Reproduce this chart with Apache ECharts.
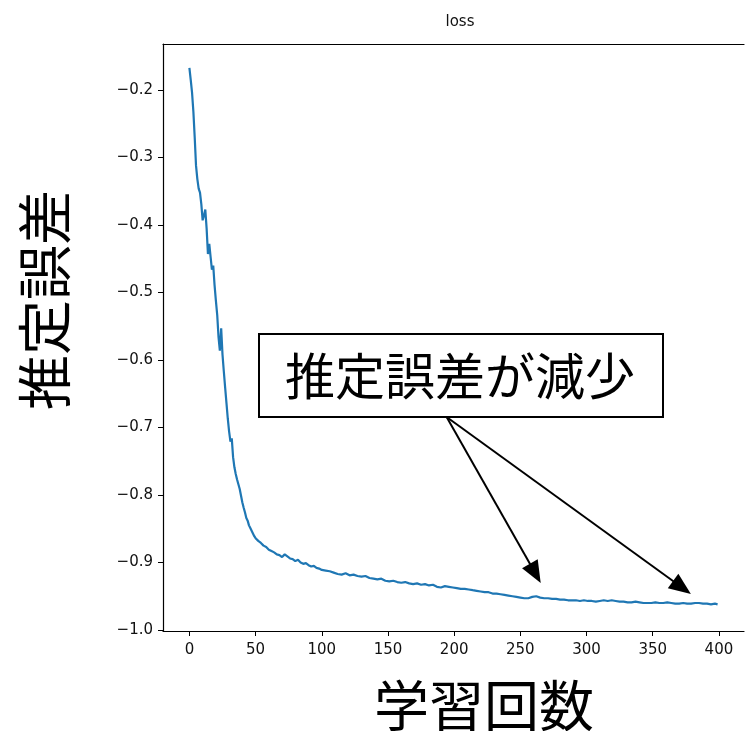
<!DOCTYPE html>
<html>
<head>
<meta charset="utf-8">
<script src="https://cdn.jsdelivr.net/npm/echarts@6/dist/echarts.min.js"></script>
<style>html,body{margin:0;padding:0;background:#fff}#c{width:745px;height:731px}</style>
</head>
<body>
<div id="c"></div>
<script>
var titleText = 'loss';
var xLabel = '学習回数';
var yLabel = '推定誤差';
var noteText = '推定誤差が減少';
var xTicks = [0, 50, 100, 150, 200, 250, 300, 350, 400];
var yTicks = [-1.0, -0.9, -0.8, -0.7, -0.6, -0.5, -0.4, -0.3, -0.2];
var steps = [0,1,2,3,4,5,6,7,8,9,10,11,12,13,14,15,16,17,18,19,20,21,22,23,24,25,26,27,28,29,30,31,32,33,34,35,36,37,38,39,40,41,42,43,44,45,46,47,48,49,50,
52,54,56,58,60,62,64,66,68,70,72,74,76,78,80,82,84,86,88,90,92,94,96,98,100,
103,106,109,112,115,118,121,124,127,130,133,136,139,142,145,148,151,154,157,160,163,166,169,172,175,178,181,184,187,190,193,196,199,
202,205,208,211,214,217,220,223,226,229,232,235,238,241,244,247,250,253,256,259,262,265,268,271,274,277,280,283,286,289,292,295,298,
301,304,307,310,313,316,319,322,325,328,331,334,337,340,343,346,349,352,355,358,361,364,367,370,373,376,379,382,385,388,391,394,397,399];
var lossValues = [-0.167,-0.185,-0.204,-0.232,-0.270,-0.312,-0.332,-0.346,-0.352,-0.369,-0.393,-0.386,-0.377,-0.405,-0.443,-0.428,-0.447,-0.466,-0.460,-0.489,-0.512,-0.533,-0.566,-0.586,-0.553,-0.592,-0.617,-0.641,-0.664,-0.687,-0.706,-0.721,-0.716,-0.744,-0.759,-0.769,-0.777,-0.784,-0.791,-0.801,-0.811,-0.819,-0.826,-0.834,-0.838,-0.845,-0.849,-0.853,-0.857,-0.861,-0.864,
-0.868,-0.871,-0.875,-0.877,-0.881,-0.883,-0.885,-0.888,-0.889,-0.892,-0.888,-0.891,-0.894,-0.895,-0.898,-0.896,-0.900,-0.902,-0.901,-0.904,-0.906,-0.905,-0.908,-0.909,-0.911,
-0.912,-0.913,-0.915,-0.917,-0.918,-0.916,-0.919,-0.918,-0.920,-0.921,-0.920,-0.923,-0.924,-0.925,-0.924,-0.927,-0.928,-0.927,-0.929,-0.930,-0.929,-0.931,-0.932,-0.931,-0.933,-0.932,-0.934,-0.933,-0.936,-0.937,-0.935,-0.936,-0.937,
-0.938,-0.939,-0.939,-0.940,-0.941,-0.942,-0.943,-0.944,-0.944,-0.946,-0.946,-0.947,-0.948,-0.949,-0.950,-0.951,-0.952,-0.953,-0.953,-0.951,-0.950,-0.952,-0.953,-0.953,-0.954,-0.954,-0.955,-0.955,-0.956,-0.956,-0.956,-0.957,-0.956,
-0.957,-0.957,-0.958,-0.957,-0.956,-0.957,-0.956,-0.957,-0.958,-0.958,-0.959,-0.959,-0.958,-0.959,-0.960,-0.960,-0.960,-0.959,-0.960,-0.960,-0.959,-0.960,-0.961,-0.961,-0.960,-0.961,-0.961,-0.960,-0.960,-0.961,-0.961,-0.962,-0.961,-0.962];
var arrowStart = [194.3, -0.6844];
var arrowEnds = [[261.3, -0.9161], [372.1, -0.9370]];

var seriesData = steps.map(function (s, i) { return [s, lossValues[i]]; });
var chart = echarts.init(document.getElementById('c'), null, {renderer: 'canvas'});
var tickFont = {fontFamily: 'DejaVu Sans', fontSize: 15, color: '#111'};
chart.setOption({
  animation: false,
  backgroundColor: '#fff',
  title: {text: titleText, left: 455, top: 10, textAlign: 'center',
    textStyle: {fontFamily: 'DejaVu Sans', fontSize: 15, fontWeight: 'normal', color: '#111'}},
  grid: {left: 163, top: 44, right: 1, bottom: 100, containLabel: false},
  xAxis: [{
    type: 'value', min: -19.95, max: 418.95,
    axisLine: {show: true, onZero: false, lineStyle: {color: '#000', width: 1.2}},
    axisTick: {show: true, length: 5, lineStyle: {color: '#000'}, customValues: xTicks},
    axisLabel: Object.assign({margin: 12, customValues: xTicks, formatter: function (v) { return String(v); }}, tickFont),
    splitLine: {show: false}
  }, {
    type: 'value', position: 'top', min: -19.95, max: 418.95,
    axisLine: {show: true, onZero: false, lineStyle: {color: '#000', width: 1.2}},
    axisTick: {show: false}, axisLabel: {show: false}, splitLine: {show: false}
  }],
  yAxis: {
    type: 'value', min: -1.0015, max: -0.1318,
    axisLine: {show: true, onZero: false, lineStyle: {color: '#000', width: 1.2}},
    axisTick: {show: true, length: 5, lineStyle: {color: '#000'}, customValues: yTicks},
    axisLabel: Object.assign({margin: 10, customValues: yTicks, formatter: function (v) { return '\u2212' + Math.abs(v).toFixed(1); }}, tickFont),
    splitLine: {show: false}
  },
  series: [{
    type: 'line', data: seriesData, showSymbol: false, symbol: 'none',
    lineStyle: {color: '#1f77b4', width: 2.2}, itemStyle: {color: '#1f77b4'},
    markLine: {
      silent: true, symbol: ['none', 'triangle'], symbolSize: [18, 22],
      lineStyle: {color: '#000', width: 2, type: 'solid'}, label: {show: false},
      data: arrowEnds.map(function (e) { return [{coord: arrowStart}, {coord: e}]; })
    }
  }],
  graphic: [
    {type: 'rect', left: 258, top: 333, z: 10, shape: {width: 404, height: 83},
      style: {fill: '#fff', stroke: '#000', lineWidth: 2}},
    {type: 'text', x: 460, y: 376, z: 11,
      style: {text: noteText, fontFamily: 'Noto Sans CJK JP', fontSize: 50, fill: '#000', align: 'center', verticalAlign: 'middle'}},
    {type: 'text', x: 484, y: 705,
      style: {text: xLabel, fontFamily: 'Noto Sans CJK JP', fontSize: 55, fill: '#000', align: 'center', verticalAlign: 'middle'}},
    {type: 'text', x: 44, y: 300, rotation: Math.PI / 2,
      style: {text: yLabel, fontFamily: 'Noto Sans CJK JP', fontSize: 55, fill: '#000', align: 'center', verticalAlign: 'middle'}}
  ]
});
</script>
</body>
</html>
